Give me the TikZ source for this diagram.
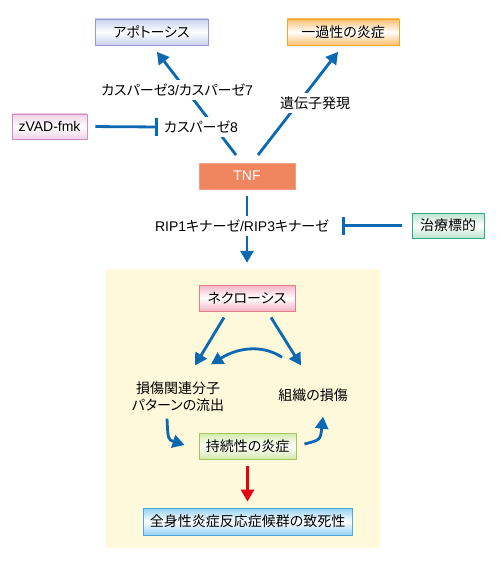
\documentclass[tikz,border=0pt]{standalone}
\usepackage{fontspec}
\setmainfont{Noto Sans CJK JP}[RawFeature=+palt]
\newfontfamily\lat{Liberation Sans}
\usetikzlibrary{arrows.meta,calc}
\definecolor{myblue}{HTML}{0B68B3}
\definecolor{myred}{HTML}{E50012}
\definecolor{zonebg}{HTML}{FEF9DA}
\definecolor{apoB}{HTML}{9A98CF}\definecolor{apoF}{HTML}{C6D2F0}
\definecolor{acuB}{HTML}{F5A623}\definecolor{acuF}{HTML}{FAC06F}
\definecolor{zvB}{HTML}{D08CC0}\definecolor{zvF}{HTML}{EED0E6}
\definecolor{chB}{HTML}{2AAE8A}\definecolor{chF}{HTML}{BCE4CE}
\definecolor{neB}{HTML}{E87C8F}\definecolor{neF}{HTML}{F6B5C4}
\definecolor{peB}{HTML}{A3C75F}\definecolor{peF}{HTML}{D3E9AC}
\definecolor{siB}{HTML}{4EA8DC}\definecolor{siF}{HTML}{92D1F1}
\definecolor{tnfF}{HTML}{F08660}
\tikzset{
  gbox/.style 2 args={draw=#1, line width=0.9pt, inner sep=0pt, minimum height=26pt,
    top color=#2, bottom color=#2, middle color=white},
  arr/.style={draw=myblue, line width=2.8pt, -{Triangle[length=12pt,width=13pt]}},
  inh/.style={draw=myblue, line width=2.8pt, -{Bar[width=18pt,line width=2.8pt]}},
  lbl/.style={fill=white, inner sep=4pt},
  plain/.style={inner sep=2pt, align=center},
}
\begin{document}
\begin{tikzpicture}[x=1pt,y=-1pt,font=\fontsize{14}{17}\selectfont]
\useasboundingbox (0,0) rectangle (500,572);
% yellow zone
\node[fill=zonebg, minimum width=274pt, minimum height=279pt, inner sep=0pt] (zone) at (243,408.5) {};
% boxes
\node[gbox={apoB}{apoF}, minimum width=113pt] (apo) at (151.5,32) {アポトーシス};
\node[gbox={acuB}{acuF}, minimum width=112pt] (acute) at (343,32) {一過性の炎症};
\node[gbox={zvB}{zvF}, minimum width=75pt, minimum height=25pt] (zvad) at (49.5,126.5) {\lat zVAD-fmk};
\node[fill=tnfF, draw=tnfF!80!white, line width=0.6pt, minimum width=96pt, minimum height=26pt, inner sep=0pt, text=white] (tnf) at (247,176) {\lat TNF};
\node[gbox={chB}{chF}, minimum width=72pt, minimum height=25pt] (chiryo) at (448,225.5) {治療標的};
\node[gbox={neB}{neF}, minimum width=96pt] (necro) at (247,298) {ネクローシス};
\node[gbox={peB}{peF}, minimum width=97pt] (persist) at (247.5,446) {持続性の炎症};
\node[gbox={siB}{siF}, minimum width=209pt, minimum height=27pt] (sirs) at (247.5,521.5) {全身性炎症反応症候群の致死性};
% coordinates of the TNF line starts
\coordinate (tl) at (236,155);
\coordinate (tr) at (258,155);
% upper connectors
\draw[arr, shorten >=8pt] (tl) -- ($(apo.south)+(0.5,0)$);
\draw[arr, shorten >=8pt] (tr) -- (acute.south);
\draw[arr, shorten <=7pt, shorten >=6pt] (tnf.south) -- (tnf.south |- zone.north);
% labels on the lines
\node[lbl] (cas37) at (177,90) {カスパーゼ{\lat 3/}カスパーゼ{\lat 7}};
\node[lbl] (cas8) at (201,127) {カスパーゼ{\lat 8}};
\node[lbl] (gene) at (315,103) {遺伝子発現};
\node[lbl] (rip) at (242,226) {{\lat RIP1}キナーゼ{\lat /RIP3}キナーゼ};
% inhibitions
\draw[inh, shorten <=8pt, shorten >=2pt] (zvad.east) -- (cas8.west);
\draw[inh, shorten <=10pt, shorten >=9pt] (chiryo.west) -- (chiryo.west -| rip.east);
% lower part
\node[plain] (dam) at (178,396.5) {損傷関連分子\\パターンの流出};
\node[plain] (tissue) at (313,395) {組織の損傷};
\draw[arr] ($(necro.south)+(-23,6)$) -- ($(necro.south)+(-52,54)$);
\draw[arr] ($(necro.south)+(24,6)$) -- ($(necro.south)+(54,54)$);
\draw[arr] ($(tissue.north)+(-31,-29)$) .. controls ($(tissue.north)+(-49,-41)$) and ($(tissue.north)+(-73,-40)$) .. ($(dam.north)+(33,-15)$);
\draw[arr] ($(dam.south)+(-11,5)$) .. controls ($(dam.south)+(-10,26)$) .. ($(persist.west)+(-14,-1)$);
\draw[arr] ($(persist.east)+(8,-2)$) .. controls ($(persist.east)+(24,-6)$) .. ($(tissue.south)+(10,13)$);
\draw[draw=myred, line width=2.8pt, -{Triangle[length=12pt,width=13pt]}, shorten <=7pt, shorten >=6pt] (persist.south) -- (sirs.north);
\end{tikzpicture}
\end{document}
